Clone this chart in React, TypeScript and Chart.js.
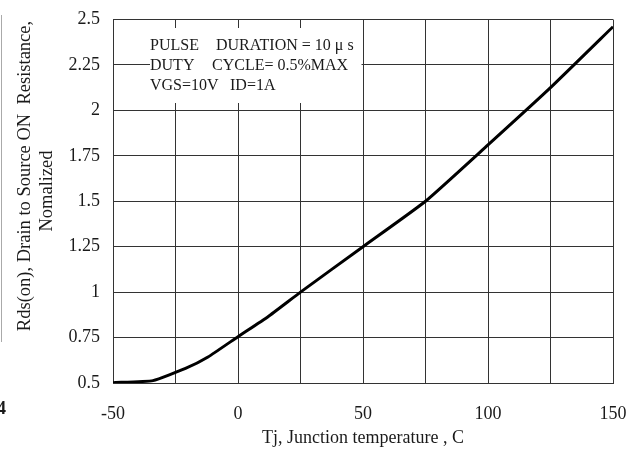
import React, { useEffect, useRef } from "react";
import { Chart, registerables } from "chart.js";

Chart.register(...registerables);

// Data
const tempC = [-50, -34, -21, -12, 0, 12, 25, 50, 75, 100, 125, 150];
const rdsNorm = [0.502, 0.513, 0.58, 0.643, 0.755, 0.865, 1.0, 1.25, 1.5, 1.81, 2.125, 2.46];

const xTickLabels = ["-50", "", "0", "", "50", "", "100", "", "150"];
const yTickLabels = ["0.5", "0.75", "1", "1.25", "1.5", "1.75", "2", "2.25", "2.5"];

const xTitle = "Tj, Junction temperature , C";
const yTitleLines = ["Rds(on), Drain to Source ON  Resistance,", "Nomalized"];
const noteLines = [
  ["PULSE", "DURATION = 10 \u03bc s"],
  ["DUTY", "CYCLE= 0.5%MAX"],
  ["VGS=10V", "ID=1A"],
];
const strayText = "4";

const FONT = '"Liberation Serif", "Times New Roman", serif';
const GRID = "#333333";
const TEXT = "#1a1a1a";

const overlayPlugin = {
  id: "overlay",
  beforeDatasetsDraw(chart: any) {
    const ctx = chart.ctx;
    ctx.save();
    // annotation box covering grid
    ctx.fillStyle = "#ffffff";
    ctx.fillRect(150, 28, 211.5, 75);
    ctx.fillStyle = TEXT;
    ctx.font = `16px ${FONT}`;
    ctx.textBaseline = "middle";
    ctx.textAlign = "left";
    const secondX = [216, 212, 230];
    noteLines.forEach((ln, i) => {
      const y = 46 + i * 20;
      ctx.fillText(ln[0], 150, y);
      ctx.fillText(ln[1], secondX[i], y);
    });
    ctx.restore();
  },
  afterDraw(chart: any) {
    const ctx = chart.ctx;
    ctx.save();
    // y axis title (two lines, rotated)
    ctx.fillStyle = TEXT;
    ctx.font = `18.5px ${FONT}`;
    ctx.textAlign = "center";
    ctx.textBaseline = "middle";
    const pos = [
      [25, 176],
      [47, 191],
    ];
    yTitleLines.forEach((t, i) => {
      ctx.save();
      ctx.translate(pos[i][0], pos[i][1]);
      ctx.rotate(-Math.PI / 2);
      ctx.fillText(t, 0, 0);
      ctx.restore();
    });
    // stray page elements
    ctx.strokeStyle = "#aaaaaa";
    ctx.lineWidth = 1;
    ctx.beginPath();
    ctx.moveTo(1.5, 15);
    ctx.lineTo(1.5, 342);
    ctx.stroke();
    ctx.font = `bold 18px ${FONT}`;
    ctx.textAlign = "left";
    ctx.fillText(strayText, -3, 409);
    ctx.restore();
  },
};

export default function App() {
  const ref = useRef<HTMLCanvasElement | null>(null);
  useEffect(() => {
    if (!ref.current) return;
    const chart = new Chart(ref.current, {
      type: "line",
      data: {
        datasets: [
          {
            data: tempC.map((t, i) => ({ x: t, y: rdsNorm[i] })),
            borderColor: "#000000",
            borderWidth: 3,
            pointRadius: 0,
            tension: 0.15,
            fill: false,
          },
        ],
      },
      options: {
        animation: false,
        responsive: false,
        maintainAspectRatio: false,
        layout: { padding: { top: 19.5, right: 24, left: 0, bottom: 0 } },
        plugins: { legend: { display: false }, tooltip: { enabled: false } },
        scales: {
          x: {
            type: "linear",
            min: -50,
            max: 150,
            afterFit: (s: any) => {
              s.height = 67;
              s.paddingLeft = 0;
              s.paddingRight = 0;
            },
            ticks: {
              stepSize: 25,
              autoSkip: false,
              maxRotation: 0,
              padding: 20,
              color: TEXT,
              font: { family: FONT, size: 18 },
              callback: (_v: any, i: number) => xTickLabels[i],
            },
            grid: { color: GRID, lineWidth: 1, drawTicks: false },
            border: { color: GRID, width: 1 },
            title: {
              display: true,
              text: xTitle,
              color: TEXT,
              font: { family: FONT, size: 18 },
              padding: { top: 0, bottom: 1 },
            },
          },
          y: {
            type: "linear",
            min: 0.5,
            max: 2.5,
            afterFit: (s: any) => {
              s.width = 113;
              s.paddingTop = 0;
              s.paddingBottom = 0;
            },
            ticks: {
              stepSize: 0.25,
              autoSkip: false,
              padding: 13,
              color: TEXT,
              font: { family: FONT, size: 18 },
              callback: (_v: any, i: number) => yTickLabels[i],
            },
            grid: { color: GRID, lineWidth: 1, drawTicks: false },
            border: { color: GRID, width: 1 },
          },
        },
      },
      plugins: [overlayPlugin],
    });
    return () => chart.destroy();
  }, []);
  return (
    <div style={{ position: "absolute", left: 0, top: 0, width: 637, height: 450, background: "#fff" }}>
      <canvas ref={ref} width={637} height={450} style={{ display: "block" }} />
    </div>
  );
}
